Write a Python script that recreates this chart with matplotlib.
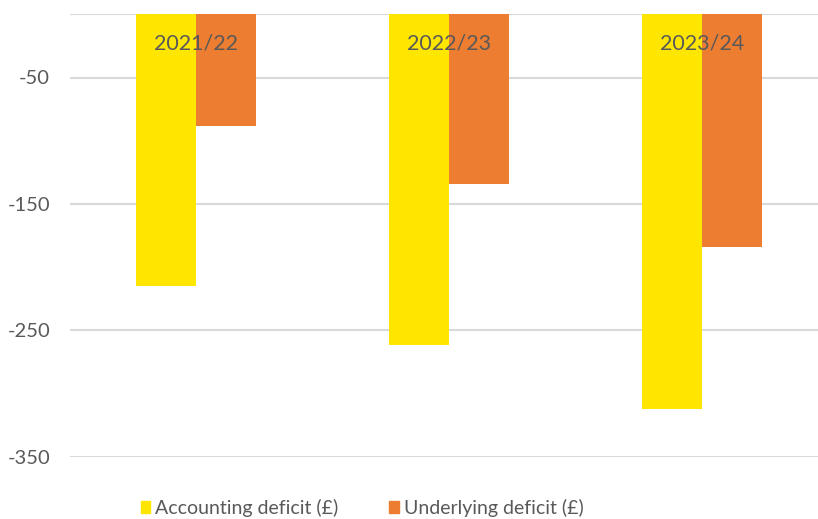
import numpy as np
import matplotlib.pyplot as plt
from matplotlib.patches import Patch
from matplotlib.ticker import FuncFormatter

# data
years = ["2021/22", "2022/23", "2023/24"]
accounting = [-215, -262, -312]
underlying = [-88, -134, -184]
series_names = ["Accounting deficit (£)", "Underlying deficit (£)"]
yticks = [-350, -250, -150, -50]

yellow = "#FFE600"
orange = "#ED7D31"
grey_text = "#595959"
grid_col = "#D9D9D9"

plt.rcParams['font.family'] = ['Lato', 'DejaVu Sans']

fig = plt.figure(figsize=(8.18, 5.19), dpi=100)
# plot area runs slightly past the right edge of the picture, as in the reference
ax = fig.add_axes([69.5 / 818, 62.3 / 519, 759 / 818, 442.4 / 519])

x = np.arange(len(years))
w = 0.237
ax.bar(x - w / 2, accounting, width=w, color=yellow, zorder=2)
ax.bar(x + w / 2, underlying, width=w, color=orange, zorder=2)

ax.set_xlim(-0.5, 2.5)
ax.set_ylim(-350, 0)
ax.set_yticks(yticks)
ax.yaxis.set_major_formatter(FuncFormatter(lambda v, p: "%d" % v))
ax.set_xticks([])
for v in yticks:
    ax.axhline(v, color=grid_col, lw=1.5, zorder=1)
ax.axhline(0, color=grid_col, lw=1.5, zorder=1)

for s in ax.spines.values():
    s.set_visible(False)
ax.tick_params(axis='y', length=0, pad=14, labelsize=14.5, labelcolor=grey_text)

for i, yr in enumerate(years):
    ax.text(i, -23, yr, ha='center', va='center', fontsize=15.5, color=grey_text, zorder=3)

handles = [Patch(color=yellow), Patch(color=orange)]
fig.legend(handles, series_names, loc='center', bbox_to_anchor=(362 / 818, 1 - 508 / 519),
           ncol=2, frameon=False, fontsize=14, labelcolor=grey_text,
           handlelength=0.5, handleheight=0.6, handletextpad=0.25, columnspacing=2.6)

fig.savefig("out.png", dpi=100)
